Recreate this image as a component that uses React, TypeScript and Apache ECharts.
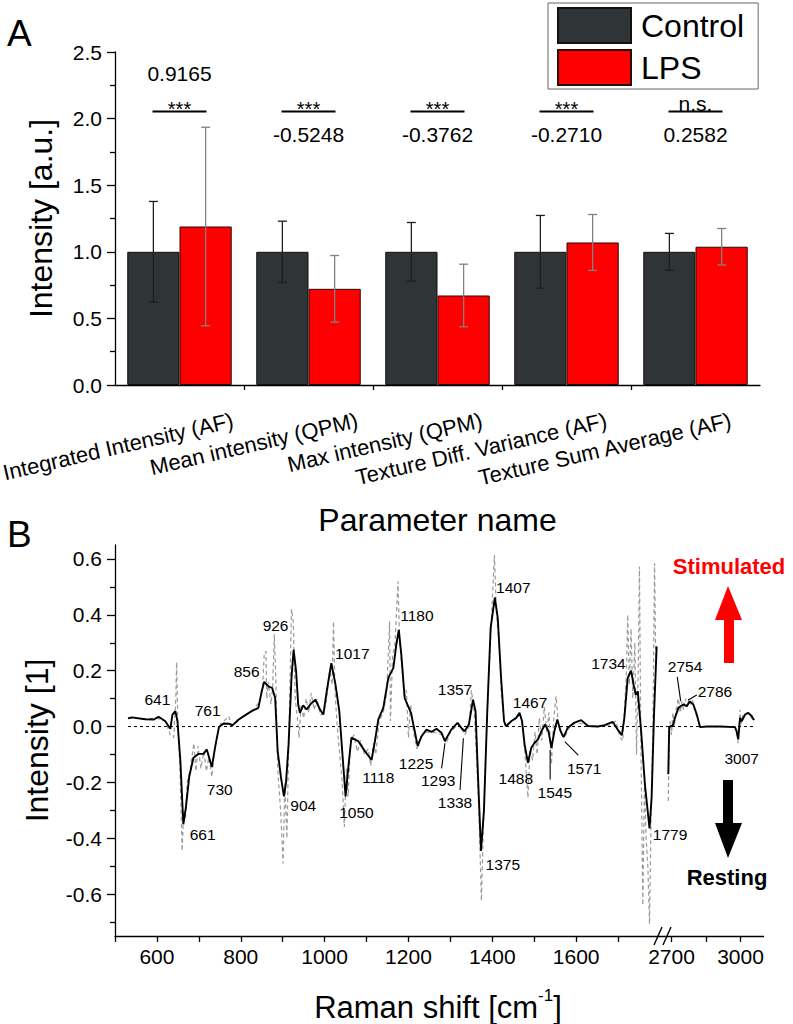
import React, { useEffect, useRef } from 'react';
import * as echarts from 'echarts';

const FONT = '"Liberation Sans", Arial, Helvetica, sans-serif';

// ---------- Panel A data ----------
const categories = [
  'Integrated Intensity (AF)',
  'Mean intensity (QPM)',
  'Max intensity (QPM)',
  'Texture Diff. Variance (AF)',
  'Texture Sum Average (AF)',
];
const controlMean = [1, 1, 1, 1, 1];
const controlErr = [0.378, 0.23, 0.22, 0.273, 0.138];
const lpsMean = [1.19, 0.722, 0.672, 1.07, 1.038];
const lpsErr = [0.745, 0.25, 0.235, 0.21, 0.137];
const sigMarks = ['***', '***', '***', '***', 'n.s.'];
const corrCoefs = ['0.9165', '-0.5248', '-0.3762', '-0.2710', '0.2582'];
const SIG_LINE_Y = 2.053;

// ---------- Panel B data ----------
const yMajorB = [-0.6, -0.4, -0.2, 0, 0.2, 0.4, 0.6];
const yMinorB = [-0.7, -0.5, -0.3, -0.1, 0.1, 0.3, 0.5];
const xTicksLow = [500, 600, 700, 800, 900, 1000, 1100, 1200, 1300, 1400, 1500, 1600, 1700];
const xLabelsLow = [600, 800, 1000, 1200, 1400, 1600];
const xTicksHigh = [2700, 2850, 3000];
const xLabelsHigh = [2700, 3000];

const meanLow = [
  [531, 0.029], [540, 0.033], [572, 0.026], [592, 0.025], [604, 0.035], [620, 0.019], [632, -0.008],
  [637, 0.043], [644, 0.055], [649, 0.019], [656, -0.124], [663, -0.35], [669, -0.29], [677, -0.18],
  [687, -0.112], [699, -0.098], [711, -0.098], [719, -0.082], [731, -0.145], [740, -0.064], [748, -0.002],
  [759, 0.011], [771, 0.01], [780, 0.004], [795, 0.025], [810, 0.04], [826, 0.055], [842, 0.067],
  [850, 0.126], [856, 0.16], [866, 0.144], [875, 0.138], [882, 0.102], [888, -0.088], [896, -0.183],
  [903, -0.25], [908, -0.2], [914, -0.064], [921, 0.174], [926, 0.275], [932, 0.198], [937, 0.079],
  [941, 0.049], [949, 0.076], [957, 0.061], [967, 0.081], [978, 0.096], [989, 0.061], [997, 0.043],
  [1005, 0.126], [1016, 0.227], [1026, 0.15], [1035, 0.055], [1042, -0.088], [1050, -0.25], [1058, -0.124],
  [1064, -0.04], [1080, -0.052], [1096, -0.088], [1112, -0.12], [1120, -0.052], [1128, 0.025], [1140, 0.067],
  [1152, 0.174], [1164, 0.21], [1171, 0.293], [1177, 0.346], [1183, 0.257], [1191, 0.102], [1206, 0.049],
  [1215, -0.017], [1222, -0.07], [1231, -0.035], [1243, -0.011], [1255, -0.019], [1267, -0.008], [1279, -0.023],
  [1287, -0.052], [1302, -0.011], [1317, 0.013], [1326, -0.005], [1334, -0.017], [1344, 0.007], [1354, 0.096],
  [1360, 0.055], [1366, -0.183], [1373, -0.445], [1380, -0.302], [1388, 0.055], [1396, 0.352], [1406, 0.462],
  [1413, 0.388], [1421, 0.174], [1428, 0.019], [1433, 0.001], [1445, 0.019], [1457, 0.031], [1465, 0.049],
  [1471, 0.019], [1477, -0.064], [1485, -0.13], [1493, -0.076], [1501, -0.058], [1509, -0.046], [1517, -0.017],
  [1526, 0.007], [1534, -0.017], [1541, -0.076], [1548, -0.017], [1555, 0.025], [1563, -0.017], [1570, -0.038],
  [1580, -0.004], [1596, 0.014], [1612, 0.023], [1628, 0.002], [1652, 0.0], [1668, 0.005], [1687, 0.017],
  [1699, -0.011], [1709, -0.031], [1715, 0.031], [1723, 0.174], [1731, 0.2], [1737, 0.15], [1742, 0.114],
  [1747, 0.126], [1755, -0.017], [1764, -0.207], [1775, -0.365], [1780, -0.255], [1786, 0.055], [1792, 0.287],
];
const meanHigh = [
  [2686, -0.171], [2690, -0.002], [2700, 0.003], [2705, 0.001], [2715, 0.031], [2730, 0.067], [2751, 0.079],
  [2766, 0.073], [2780, 0.09], [2795, 0.079], [2810, 0.043], [2824, -0.002], [2853, 0.0], [2911, 0.0],
  [2976, -0.002], [2983, -0.017], [2990, -0.046], [2998, 0.031], [3005, 0.019], [3020, 0.043], [3034, 0.049],
  [3049, 0.037], [3059, 0.023],
];
const singleLow = [
  [531, 0.03], [560, 0.028], [600, 0.03], [620, 0.02], [632, -0.03], [640, -0.04], [645, 0.1], [647, 0.23],
  [650, 0.0], [655, -0.15], [660, -0.445], [664, -0.3], [668, -0.33], [672, -0.2], [680, -0.15], [688, -0.06],
  [693, -0.16], [698, -0.07], [705, -0.15], [712, -0.09], [718, -0.16], [724, -0.11], [731, -0.18], [737, -0.09],
  [745, -0.02], [752, 0.01], [760, 0.02], [771, 0.037], [780, 0.0], [800, 0.03], [830, 0.06], [845, 0.09],
  [852, 0.14], [856, 0.26], [860, 0.27], [862, 0.1], [866, 0.16], [872, 0.08], [876, 0.14], [880, 0.33],
  [884, 0.15], [888, -0.15], [895, -0.3], [901, -0.49], [905, -0.2], [910, -0.4], [914, -0.1], [918, 0.2],
  [921, 0.42], [925, 0.38], [930, 0.1], [935, 0.03], [939, -0.04], [944, 0.08], [950, 0.03], [956, 0.1],
  [962, 0.05], [968, 0.12], [975, 0.06], [982, 0.1], [990, 0.04], [998, 0.05], [1005, 0.1], [1012, 0.2],
  [1018, 0.15], [1021, 0.376], [1025, 0.12], [1030, 0.0], [1036, -0.1], [1042, -0.2], [1047, -0.36],
  [1052, -0.15], [1056, -0.25], [1062, -0.05], [1070, -0.03], [1078, -0.09], [1086, -0.05], [1095, -0.1],
  [1104, -0.08], [1110, -0.14], [1116, -0.06], [1122, -0.1], [1130, 0.02], [1140, 0.05], [1148, 0.12],
  [1155, 0.376], [1157, 0.02], [1162, 0.25], [1168, 0.3], [1175, 0.519], [1179, 0.3], [1185, 0.2], [1190, 0.1],
  [1195, 0.13], [1200, -0.04], [1205, 0.08], [1212, -0.02], [1220, -0.08], [1228, -0.04], [1240, -0.02],
  [1260, -0.02], [1280, -0.03], [1290, -0.06], [1300, -0.02], [1320, 0.01], [1334, -0.03], [1345, 0.0],
  [1350, 0.13], [1356, 0.07], [1362, -0.1], [1368, -0.3], [1374, -0.624], [1378, -0.4], [1384, -0.1],
  [1392, 0.2], [1400, 0.45], [1405, 0.614], [1410, 0.4], [1416, 0.3], [1422, 0.1], [1430, 0.0], [1445, 0.02],
  [1460, 0.03], [1466, 0.05], [1472, 0.0], [1478, -0.1], [1485, -0.255], [1490, -0.08], [1496, -0.12],
  [1502, -0.02], [1507, -0.1], [1512, 0.03], [1518, -0.05], [1524, 0.07], [1530, -0.02], [1535, 0.05],
  [1541, -0.136], [1546, 0.02], [1552, 0.108], [1558, 0.0], [1565, -0.03], [1572, -0.04], [1585, 0.0],
  [1600, 0.015], [1640, 0.0], [1680, 0.005], [1695, 0.02], [1705, -0.04], [1711, -0.052], [1715, 0.05],
  [1720, 0.2], [1723, 0.4], [1727, 0.15], [1731, 0.35], [1735, 0.1], [1740, 0.3], [1744, -0.1], [1748, 0.2],
  [1751, 0.573], [1754, 0.0], [1759, -0.64], [1763, -0.2], [1767, -0.4], [1771, -0.5], [1775, -0.707],
  [1779, -0.3], [1783, 0.0], [1787, 0.585], [1790, 0.2],
];
const singleHigh = [
  [2686, -0.267], [2690, -0.05], [2694, 0.02], [2700, -0.03], [2706, 0.05], [2712, 0.0], [2720, 0.06],
  [2730, 0.1], [2738, 0.05], [2745, 0.09], [2752, 0.06], [2760, 0.1], [2768, 0.07], [2776, 0.1], [2784, 0.08],
  [2792, 0.095], [2800, 0.06], [2812, 0.03], [2824, 0.0], [2900, 0.0], [2975, 0.0], [2985, -0.02],
  [2990, -0.06], [2995, 0.02], [2998, 0.06], [3003, 0.01], [3010, 0.04], [3030, 0.05], [3059, 0.02],
];
const zeroLow = [[531, 0], [1800, 0]];
const zeroHigh = [[2650, 0], [3059, 0]];

const peakNamesLow = ['641', '661', '730', '761', '856', '904', '926', '1017', '1050', '1118', '1180', '1225',
  '1293', '1338', '1357', '1375', '1407', '1467', '1488', '1545', '1571', '1734', '1779'];
const peakPosLow = [
  [601, 0.098], [709, -0.386], [750, -0.227], [721, 0.057], [814, 0.196], [949, -0.281], [883, 0.36],
  [1066, 0.262], [1076, -0.309], [1128, -0.183], [1220, 0.396], [1218, -0.132], [1271, -0.192], [1311, -0.273],
  [1311, 0.134], [1425, -0.493], [1450, 0.498], [1490, 0.085], [1456, -0.185], [1549, -0.236], [1619, -0.15],
  [1677, 0.226], [1824, -0.388],
];
const peakNamesHigh = ['2754', '2786', '3007'];
const peakPosHigh = [[2759, 0.214], [2889, 0.125], [3005, -0.116]];
const leadersLow = [
  [1287, -0.06, 1279, -0.15], [1331, -0.042, 1323, -0.227], [1538, -0.084, 1538, -0.19], [1573, -0.054, 1605, -0.102],
];
const leadersHigh = [[2725, 0.178, 2740, 0.091], [2773, 0.095, 2810, 0.113]];

const axisLineStyle = { color: '#000', width: 1.3 };

function errRender(sign: number, color: string) {
  return (params: any, api: any) => {
    const i = api.value(0);
    const m = api.value(1);
    const e = api.value(2);
    const band = api.size([1, 0])[0];
    const x = api.coord([i, m])[0] + sign * band * 0.2025;
    const yHi = api.coord([i, m + e])[1];
    const yLo = api.coord([i, m - e])[1];
    const cap = 4.5;
    const style = { stroke: color, lineWidth: 1.3 };
    return {
      type: 'group',
      children: [
        { type: 'line', shape: { x1: x, y1: yHi, x2: x, y2: yLo }, style },
        { type: 'line', shape: { x1: x - cap, y1: yHi, x2: x + cap, y2: yHi }, style },
        { type: 'line', shape: { x1: x - cap, y1: yLo, x2: x + cap, y2: yLo }, style },
      ],
    };
  };
}

function sigRender(params: any, api: any) {
  const i = api.value(0);
  const p = api.coord([i, SIG_LINE_Y]);
  const half = 27;
  const top = Math.max(controlMean[i] + controlErr[i], lpsMean[i] + lpsErr[i]);
  const above = top > 1.85;
  const mark = sigMarks[i];
  const isStar = mark.indexOf('*') >= 0;
  return {
    type: 'group',
    children: [
      { type: 'line', shape: { x1: p[0] - half, y1: p[1], x2: p[0] + half, y2: p[1] }, style: { stroke: '#000', lineWidth: 2 } },
      {
        type: 'text', x: p[0], y: p[1] + (isStar ? -3 : -8),
        style: { text: mark, fontSize: isStar ? 20 : 21, fontFamily: FONT, fill: '#000', align: 'center', verticalAlign: 'middle' },
      },
      {
        type: 'text', x: p[0], y: p[1] + (above ? -38 : 23),
        style: { text: corrCoefs[i], fontSize: 21, fontFamily: FONT, fill: '#000', align: 'center', verticalAlign: 'middle' },
      },
    ],
  };
}

function labelRender(names: string[]) {
  return (params: any, api: any) => {
    const p = api.coord([api.value(0), api.value(1)]);
    return {
      type: 'text', x: p[0], y: p[1],
      style: { text: names[params.dataIndex], fontSize: 15.5, fontFamily: FONT, fill: '#000', align: 'center', verticalAlign: 'middle' },
    };
  };
}

function leaderRender(params: any, api: any) {
  const a = api.coord([api.value(0), api.value(1)]);
  const b = api.coord([api.value(2), api.value(3)]);
  return { type: 'line', shape: { x1: a[0], y1: a[1], x2: b[0], y2: b[1] }, style: { stroke: '#000', lineWidth: 1.1 } };
}

const tickLabel = { fontSize: 21, fontFamily: FONT, color: '#000' };
const plain = (v: number) => String(v);

const option: any = {
  animation: false,
  backgroundColor: '#fff',
  textStyle: { fontFamily: FONT },
  legend: {
    data: ['Control', 'LPS'],
    left: 548, top: 3, orient: 'vertical',
    itemWidth: 73, itemHeight: 35, itemGap: 5,
    padding: [4, 14, 3, 9],
    borderColor: '#666', borderWidth: 1,
    icon: 'rect',
    textStyle: { fontSize: 32, fontFamily: FONT, color: '#000', padding: [0, 0, 0, 5], lineHeight: 35 },
  },
  grid: [
    { left: 115, top: 52, width: 645, height: 333 },
    { left: 168, top: 52, width: 645, height: 333 },
    { left: 115, top: 545, width: 545, height: 391 },
    { left: 660, top: 545, width: 103.5, height: 391 },
  ],
  xAxis: [
    {
      gridIndex: 0, type: 'category', data: categories, position: 'bottom',
      axisLine: { onZero: false, lineStyle: axisLineStyle },
      axisTick: { alignWithLabel: true, length: 8, lineStyle: axisLineStyle },
      axisLabel: { show: false },
      name: 'Parameter name', nameLocation: 'middle', nameGap: 119,
      nameTextStyle: { fontSize: 32, fontFamily: FONT, color: '#000' },
    },
    {
      gridIndex: 0, type: 'value', min: 0, max: categories.length, position: 'bottom',
      axisLine: { show: false, onZero: false },
      axisTick: { show: true, length: 5, customValues: categories.slice(1).map((_, i) => i + 1), lineStyle: axisLineStyle },
      axisLabel: { show: false }, splitLine: { show: false },
    },
    {
      gridIndex: 1, type: 'category', data: categories, position: 'bottom',
      axisLine: { show: false, onZero: false }, axisTick: { show: false },
      axisLabel: { interval: 0, rotate: 13, margin: 35, fontSize: 22, fontFamily: FONT, color: '#000' },
    },
    {
      gridIndex: 2, type: 'value', min: 500, max: 1800, position: 'bottom',
      axisLine: { onZero: false, lineStyle: axisLineStyle },
      axisTick: { length: 6, customValues: xTicksLow, lineStyle: axisLineStyle },
      axisLabel: { ...tickLabel, customValues: xLabelsLow, margin: 10, formatter: plain },
      splitLine: { show: false },
    },
    {
      gridIndex: 3, type: 'value', min: 2650, max: 3100, position: 'bottom',
      axisLine: { onZero: false, lineStyle: axisLineStyle },
      axisTick: { length: 6, customValues: xTicksHigh, lineStyle: axisLineStyle },
      axisLabel: { ...tickLabel, customValues: xLabelsHigh, margin: 10, formatter: plain },
      splitLine: { show: false },
    },
  ],
  yAxis: [
    {
      gridIndex: 0, type: 'value', min: 0, max: 2.5, interval: 0.5, position: 'left',
      axisLine: { show: true, onZero: false, lineStyle: axisLineStyle },
      axisTick: { show: true, length: 8, lineStyle: axisLineStyle },
      minorTick: { show: true, splitNumber: 2, length: 5, lineStyle: axisLineStyle },
      axisLabel: { ...tickLabel, margin: 13, formatter: (v: number) => v.toFixed(1) },
      splitLine: { show: false }, minorSplitLine: { show: false },
      name: 'Intensity [a.u.]', nameLocation: 'middle', nameGap: 58, nameRotate: 90,
      nameTextStyle: { fontSize: 32, fontFamily: FONT, color: '#000' },
    },
    { gridIndex: 1, type: 'value', show: false, min: 0, max: 2.5 },
    {
      gridIndex: 2, type: 'value', min: -0.75, max: 0.65, position: 'left',
      axisLine: { show: true, onZero: false, lineStyle: axisLineStyle },
      axisTick: { show: true, length: 8, customValues: yMajorB, lineStyle: axisLineStyle },
      axisLabel: { ...tickLabel, margin: 13, customValues: yMajorB, formatter: (v: number) => (Math.abs(v) < 1e-9 ? 0 : v).toFixed(1) },
      splitLine: { show: false },
      name: 'Intensity [1]', nameLocation: 'middle', nameGap: 62, nameRotate: 90,
      nameTextStyle: { fontSize: 32, fontFamily: FONT, color: '#000' },
    },
    {
      gridIndex: 2, type: 'value', min: -0.75, max: 0.65, position: 'left',
      axisLine: { show: false, onZero: false },
      axisTick: { show: true, length: 5, customValues: yMinorB, lineStyle: axisLineStyle },
      axisLabel: { show: false }, splitLine: { show: false },
    },
    { gridIndex: 3, type: 'value', min: -0.75, max: 0.65, show: false },
  ],
  series: [
    {
      type: 'bar', name: 'Control', xAxisIndex: 0, yAxisIndex: 0, data: controlMean,
      barGap: '0%', barCategoryGap: '19%',
      itemStyle: { color: '#2f3436', borderColor: '#111', borderWidth: 1 },
    },
    {
      type: 'bar', name: 'LPS', xAxisIndex: 0, yAxisIndex: 0, data: lpsMean,
      barGap: '0%', barCategoryGap: '19%',
      itemStyle: { color: '#ff0000', borderColor: '#2a0a0a', borderWidth: 1 },
    },
    {
      type: 'custom', name: 'Control SD', xAxisIndex: 0, yAxisIndex: 0, z: 5,
      data: controlMean.map((m, i) => [i, m, controlErr[i]]), renderItem: errRender(-1, '#1e1e1e'),
    },
    {
      type: 'custom', name: 'LPS SD', xAxisIndex: 0, yAxisIndex: 0, z: 5,
      data: lpsMean.map((m, i) => [i, m, lpsErr[i]]), renderItem: errRender(1, '#808080'),
    },
    {
      type: 'custom', name: 'significance', xAxisIndex: 0, yAxisIndex: 0, z: 5,
      data: categories.map((_, i) => [i, SIG_LINE_Y]), renderItem: sigRender,
    },
    // Panel B
    {
      type: 'line', name: 'zero low', xAxisIndex: 3, yAxisIndex: 2, data: zeroLow, symbol: 'none',
      lineStyle: { color: '#000', width: 1, type: [3, 3] }, z: 1,
    },
    {
      type: 'line', name: 'single low', xAxisIndex: 3, yAxisIndex: 2, data: singleLow, symbol: 'none',
      lineStyle: { color: '#9a9a9a', width: 1.2, type: [4, 3] }, z: 2,
    },
    {
      type: 'line', name: 'mean low', xAxisIndex: 3, yAxisIndex: 2, data: meanLow, symbol: 'none',
      lineStyle: { color: '#000', width: 1.9 }, z: 3,
    },
    {
      type: 'line', name: 'zero high', xAxisIndex: 4, yAxisIndex: 4, data: zeroHigh, symbol: 'none',
      lineStyle: { color: '#000', width: 1, type: [3, 3] }, z: 1,
    },
    {
      type: 'line', name: 'single high', xAxisIndex: 4, yAxisIndex: 4, data: singleHigh, symbol: 'none',
      lineStyle: { color: '#9a9a9a', width: 1.2, type: [4, 3] }, z: 2,
    },
    {
      type: 'line', name: 'mean high', xAxisIndex: 4, yAxisIndex: 4, data: meanHigh, symbol: 'none',
      lineStyle: { color: '#000', width: 1.9 }, z: 3,
    },
    {
      type: 'custom', name: 'peaks low', xAxisIndex: 3, yAxisIndex: 2, z: 6, clip: false,
      data: peakPosLow, renderItem: labelRender(peakNamesLow),
    },
    {
      type: 'custom', name: 'peaks high', xAxisIndex: 4, yAxisIndex: 4, z: 6, clip: false,
      data: peakPosHigh, renderItem: labelRender(peakNamesHigh),
    },
    {
      type: 'custom', name: 'leaders low', xAxisIndex: 3, yAxisIndex: 2, z: 6,
      data: leadersLow, renderItem: leaderRender,
    },
    {
      type: 'custom', name: 'leaders high', xAxisIndex: 4, yAxisIndex: 4, z: 6,
      data: leadersHigh, renderItem: leaderRender,
    },
  ],
  graphic: [
    { type: 'text', x: 7, y: 33, style: { text: 'A', fontSize: 37, fontFamily: FONT, fill: '#000', verticalAlign: 'middle' } },
    { type: 'text', x: 7, y: 534, style: { text: 'B', fontSize: 37, fontFamily: FONT, fill: '#000', verticalAlign: 'middle' } },
    {
      type: 'text', x: 438, y: 1005,
      style: {
        text: '{a|Raman shift [cm}{s|-1}{a|]}', align: 'center', verticalAlign: 'middle',
        rich: {
          a: { fontSize: 31, fontFamily: FONT, fill: '#000', lineHeight: 36, verticalAlign: 'bottom' },
          s: { fontSize: 17, fontFamily: FONT, fill: '#000', lineHeight: 17, verticalAlign: 'top' },
        },
      },
    },
    { type: 'line', shape: { x1: 654, y1: 945, x2: 662, y2: 927 }, style: { stroke: '#000', lineWidth: 1.4 } },
    { type: 'line', shape: { x1: 663, y1: 945, x2: 671, y2: 927 }, style: { stroke: '#000', lineWidth: 1.4 } },
    {
      type: 'polygon',
      shape: { points: [[728, 586], [742, 620], [734, 620], [734, 663], [724, 663], [724, 620], [715, 620]] },
      style: { fill: '#ff0000' },
    },
    {
      type: 'polygon',
      shape: { points: [[723, 780], [733, 780], [733, 823], [742, 823], [728, 858], [715, 823], [723, 823]] },
      style: { fill: '#000' },
    },
    { type: 'text', x: 729, y: 566, style: { text: 'Stimulated', fontSize: 22, fontWeight: 'bold', fontFamily: FONT, fill: '#ff0000', align: 'center', verticalAlign: 'middle' } },
    { type: 'text', x: 727, y: 877, style: { text: 'Resting', fontSize: 22, fontWeight: 'bold', fontFamily: FONT, fill: '#000', align: 'center', verticalAlign: 'middle' } },
  ],
};

export default function App() {
  const ref = useRef<HTMLDivElement>(null);
  useEffect(() => {
    const chart = echarts.init(ref.current as HTMLDivElement, null, { renderer: 'svg' });
    chart.setOption(option);
    return () => chart.dispose();
  }, []);
  return <div ref={ref} style={{ position: 'absolute', left: 0, top: 0, width: 793, height: 1024 }} />;
}
